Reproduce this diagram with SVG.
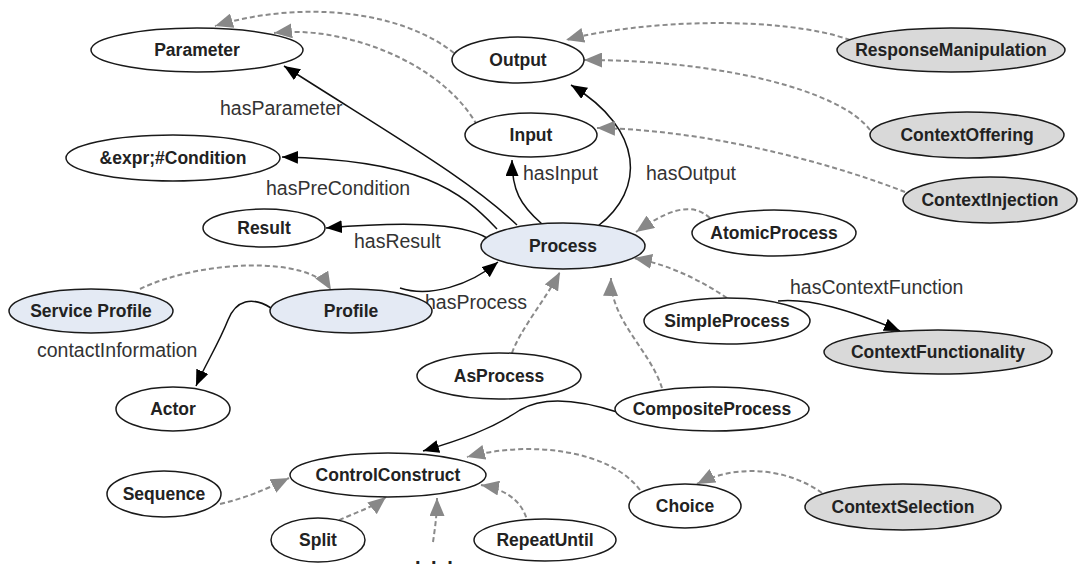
<svg xmlns="http://www.w3.org/2000/svg" width="1092" height="569" viewBox="0 0 1092 569">
<style>
.n ellipse{stroke:#1a1a1a;stroke-width:1.5;fill:#fff}
.n.b ellipse{fill:#e4eaf4}
.n.g ellipse{fill:#d9d9d9}
.n text{font-family:"Liberation Sans",Arial,sans-serif;font-weight:bold;font-size:17.5px;fill:#222;text-anchor:middle;dominant-baseline:central}
.e{fill:none;stroke:#111;stroke-width:1.5;marker-end:url(#ab)}
.s{fill:none;stroke:#8a8a8a;stroke-width:2;stroke-dasharray:5 3;marker-end:url(#ag)}
.l{font-family:"Liberation Sans",Arial,sans-serif;font-size:19.5px;fill:#333}
</style>
<defs>
<marker id="ab" markerUnits="userSpaceOnUse" markerWidth="17" markerHeight="13" refX="16" refY="6.5" orient="auto"><path d="M0,0 L16,6.5 L0,13 z" fill="#000"/></marker>
<marker id="ag" markerUnits="userSpaceOnUse" markerWidth="19" markerHeight="15" refX="18" refY="7.5" orient="auto"><path d="M0,0 L18,7.5 L0,15 z" fill="#888"/></marker>
</defs>
<rect width="1092" height="569" fill="#fff"/>
<g id="connectors">
<path class="e" d="M517,225 C470,180 400,140 284,66"/>
<path class="e" d="M497,229 C460,190 420,160 282,157"/>
<path class="e" d="M487,238 C460,222 400,222 326,228"/>
<path class="e" d="M542,224 C520,205 512,190 512,160"/>
<path class="e" d="M598,226 C645,190 645,130 571,85"/>
<path class="e" d="M400,288 C430,298 470,285 498,262"/>
<path class="e" d="M271,308 C252,296 236,300 228,320 C218,345 205,365 196,386"/>
<path class="e" d="M778,301 C810,298 850,310 900,331"/>
<path class="e" d="M617,412 C580,400 545,395 520,410 C490,430 460,440 423,451"/>
<path class="s" d="M454,53 C400,10 300,0 215,26"/>
<path class="s" d="M477,125 C440,60 340,25 274,33"/>
<path class="s" d="M850,40 C780,15 640,20 566,40"/>
<path class="s" d="M870,130 C840,90 720,60 584,60"/>
<path class="s" d="M905,192 C850,170 720,130 597,128"/>
<path class="s" d="M710,218 C690,200 665,212 636,232"/>
<path class="s" d="M727,298 C700,280 670,265 634,258"/>
<path class="s" d="M662,388 C650,350 610,320 611,278"/>
<path class="s" d="M512,353 C520,330 545,300 560,272"/>
<path class="s" d="M140,289 C200,260 310,255 331,290"/>
<path class="s" d="M220,504 C245,498 265,490 289,478"/>
<path class="s" d="M325,528 C345,515 370,510 386,497"/>
<path class="s" d="M433,542 C435,528 437,515 437,498"/>
<path class="s" d="M528,525 C525,505 510,490 481,485"/>
<path class="s" d="M640,490 C610,450 530,440 467,457"/>
<path class="s" d="M822,493 C790,470 740,462 697,484"/>
</g>
<g id="labels">
<text class="l" x="220" y="115">hasParameter</text>
<text class="l" x="266" y="195">hasPreCondition</text>
<text class="l" x="523" y="180">hasInput</text>
<text class="l" x="646" y="180">hasOutput</text>
<text class="l" x="354" y="248">hasResult</text>
<text class="l" x="425" y="309">hasProcess</text>
<text class="l" x="37" y="357">contactInformation</text>
<text class="l" x="790" y="294">hasContextFunction</text>
<text x="415" y="564" style="font-family:'Liberation Sans',Arial,sans-serif;font-size:20px;font-weight:bold;letter-spacing:2.5px;fill:#222">. . .</text>
</g>
<g id="Parameter" class="n"><ellipse cx="197" cy="50" rx="106" ry="22"/><text x="197" y="50">Parameter</text></g>
<g id="Condition" class="n"><ellipse cx="173" cy="158" rx="107" ry="23"/><text x="173" y="158">&amp;expr;#Condition</text></g>
<g id="Output" class="n"><ellipse cx="518" cy="60" rx="66" ry="23"/><text x="518" y="60">Output</text></g>
<g id="Input" class="n"><ellipse cx="531" cy="135" rx="66" ry="22"/><text x="531" y="135">Input</text></g>
<g id="ResponseManipulation" class="n g"><ellipse cx="951" cy="50" rx="114" ry="22"/><text x="951" y="50">ResponseManipulation</text></g>
<g id="ContextOffering" class="n g"><ellipse cx="967" cy="135" rx="97" ry="23"/><text x="967" y="135">ContextOffering</text></g>
<g id="ContextInjection" class="n g"><ellipse cx="990" cy="200" rx="87" ry="23"/><text x="990" y="200">ContextInjection</text></g>
<g id="Result" class="n"><ellipse cx="264" cy="228" rx="61" ry="19"/><text x="264" y="228">Result</text></g>
<g id="Process" class="n b"><ellipse cx="563" cy="246" rx="82" ry="23"/><text x="563" y="246">Process</text></g>
<g id="AtomicProcess" class="n"><ellipse cx="774" cy="233" rx="82" ry="23"/><text x="774" y="233">AtomicProcess</text></g>
<g id="ServiceProfile" class="n b"><ellipse cx="91" cy="311" rx="82" ry="22"/><text x="91" y="311">Service Profile</text></g>
<g id="Profile" class="n b"><ellipse cx="351" cy="311" rx="81" ry="22"/><text x="351" y="311">Profile</text></g>
<g id="SimpleProcess" class="n"><ellipse cx="727" cy="321" rx="83" ry="23"/><text x="727" y="321">SimpleProcess</text></g>
<g id="ContextFunctionality" class="n g"><ellipse cx="938" cy="352" rx="114" ry="22"/><text x="938" y="352">ContextFunctionality</text></g>
<g id="AsProcess" class="n"><ellipse cx="499" cy="376" rx="82" ry="23"/><text x="499" y="376">AsProcess</text></g>
<g id="Actor" class="n"><ellipse cx="173" cy="409" rx="57" ry="22"/><text x="173" y="409">Actor</text></g>
<g id="CompositeProcess" class="n"><ellipse cx="712" cy="409" rx="97" ry="22"/><text x="712" y="409">CompositeProcess</text></g>
<g id="ControlConstruct" class="n"><ellipse cx="388" cy="475" rx="98" ry="22"/><text x="388" y="475">ControlConstruct</text></g>
<g id="Sequence" class="n"><ellipse cx="164" cy="494" rx="57" ry="23"/><text x="164" y="494">Sequence</text></g>
<g id="Split" class="n"><ellipse cx="318" cy="540" rx="47" ry="22"/><text x="318" y="540">Split</text></g>
<g id="RepeatUntil" class="n"><ellipse cx="545" cy="540" rx="71" ry="21"/><text x="545" y="540">RepeatUntil</text></g>
<g id="Choice" class="n"><ellipse cx="685" cy="506" rx="56" ry="22"/><text x="685" y="506">Choice</text></g>
<g id="ContextSelection" class="n g"><ellipse cx="903" cy="507" rx="98" ry="23"/><text x="903" y="507">ContextSelection</text></g>
</svg>
